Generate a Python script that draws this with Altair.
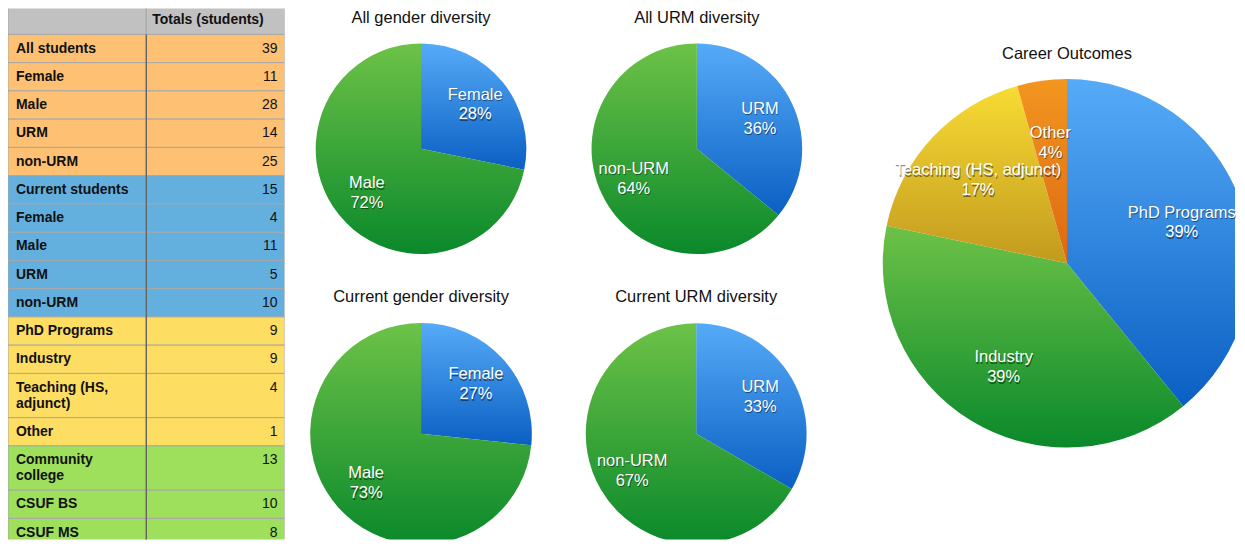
import altair as alt
import pandas as pd

# ---------------- data ----------------
table_header = "Totals (students)"
row_labels = ["All students", "Female", "Male", "URM", "non-URM",
              "Current students", "Female", "Male", "URM", "non-URM",
              "PhD Programs", "Industry", "Teaching (HS,\nadjunct)", "Other",
              "Community\ncollege", "CSUF BS", "CSUF MS"]
row_values = [39, 11, 28, 14, 25, 15, 4, 11, 5, 10, 9, 9, 4, 1, 13, 10, 8]
row_groups = ["All"] * 5 + ["Current"] * 5 + ["Careers"] * 4 + ["Origin"] * 3

gender_cats = ["Female", "Male"]
all_gender = [11, 28]
current_gender = [4, 11]
urm_cats = ["URM", "non-URM"]
all_urm = [14, 25]
current_urm = [5, 10]
career_cats = ["PhD Programs", "Industry", "Teaching (HS, adjunct)", "Other"]
career_values = [9, 9, 4, 1]

titles = ["All gender diversity", "All URM diversity",
          "Current gender diversity", "Current URM diversity", "Career Outcomes"]

# ---------------- style ----------------
FONT = "Liberation Sans"
HEADER_H = 30.0
ROW_H = 28.3
LINE_EXTRA = 16.0
TABLE_W, TABLE_H = 277, 532
Y_DOMAIN = [4, 536]
LABEL_LH = 20


def grad(top, bottom):
    return {"gradient": "linear", "x1": 0, "y1": 0, "x2": 0, "y2": 1,
            "stops": [{"offset": 0, "color": top}, {"offset": 1, "color": bottom}]}


BLUE = grad("#56abf8", "#0a5fc3")
GREEN = grad("#6dc247", "#0a892b")
YELLOW = grad("#f8db34", "#c29a1e")
ORANGE = grad("#f2961f", "#de6812")

# ---------------- table ----------------
rows = [dict(label="", value=table_header, group="Header", top=0.0, bot=HEADER_H,
             ymid=15.5, xl=0, xm=1, xr=2)]
top = HEADER_H
for lab, val, grp in zip(row_labels, row_values, row_groups):
    lines = lab.count("\n") + 1
    h = ROW_H + (lines - 1) * LINE_EXTRA
    rows.append(dict(label=lab, value=str(val), group=grp, top=top, bot=top + h,
                     ymid=top + 14.3, xl=0, xm=1, xr=2))
    top += h
rows_df = pd.DataFrame(rows)

cells = []
for r in rows:
    for c in (0, 1):
        cells.append(dict(x0=c, x1=c + 1, top=r["top"], bot=r["bot"], group=r["group"]))
cells_df = pd.DataFrame(cells)

XS = alt.Scale(domain=[0, 2], nice=False, zero=False)
YS = alt.Scale(domain=Y_DOMAIN, nice=False, zero=False, reverse=True)

rects = alt.Chart(cells_df).mark_rect(stroke="#a8a8a8", strokeWidth=1, clip=True).encode(
    x=alt.X("x0:Q", scale=XS, axis=None),
    x2="x1:Q",
    y=alt.Y("top:Q", scale=YS, axis=None),
    y2="bot:Q",
    fill=alt.Fill("group:N", legend=None,
                  scale=alt.Scale(domain=["Header", "All", "Current", "Careers", "Origin"],
                                  range=["#c1c1c1", "#fec072", "#63b0df", "#fedd63", "#9ee05b"])),
)

body = rows_df[rows_df.group != "Header"]
divider_df = pd.DataFrame({"x": [1], "y": [body.top.min()], "y2": [body.bot.max()]})
divider = alt.Chart(divider_df).mark_rule(color="#5a5a5a", strokeWidth=1.2, clip=True).encode(
    x=alt.X("x:Q", scale=XS, axis=None),
    y=alt.Y("y:Q", scale=YS, axis=None),
    y2="y2:Q",
)

labels = alt.Chart(body).mark_text(align="left", baseline="middle", dx=8, font=FONT,
                                   fontSize=14, fontWeight="bold", lineBreak="\n",
                                   lineHeight=16, color="#111").encode(
    x=alt.X("xl:Q", scale=XS, axis=None),
    y=alt.Y("ymid:Q", scale=YS, axis=None),
    text="label:N",
)
numbers = alt.Chart(body).mark_text(align="right", baseline="middle", dx=-7, font=FONT,
                                    fontSize=14, color="#111").encode(
    x=alt.X("xr:Q", scale=XS, axis=None),
    y=alt.Y("ymid:Q", scale=YS, axis=None),
    text="value:N",
)
header_txt = alt.Chart(rows_df[rows_df.group == "Header"]).mark_text(
    align="left", baseline="middle", dx=6, font=FONT, fontSize=14, fontWeight="bold",
    color="#111").encode(
    x=alt.X("xm:Q", scale=XS, axis=None),
    y=alt.Y("ymid:Q", scale=YS, axis=None),
    text="value:N",
)

table = alt.layer(rects, divider, labels, numbers, header_txt).properties(
    width=TABLE_W, height=TABLE_H)


# ---------------- pies ----------------
def fill_for(cats, grads):
    w = alt.when(alt.datum.cat == cats[0]).then(alt.value(grads[0]))
    for c, g in zip(cats[1:-1], grads[1:-1]):
        w = w.when(alt.datum.cat == c).then(alt.value(g))
    return w.otherwise(alt.value(grads[-1]))


def pie(cats, vals, grads, title, width, height, cx, cy, r, lr, title_y, fs=16.5):
    total = sum(vals)
    df = pd.DataFrame({"cat": cats, "value": vals, "idx": list(range(len(cats)))})
    df["label"] = [f"{c}\n{round(100 * v / total)}%" for c, v in zip(cats, vals)]
    base = alt.Chart(df).encode(
        theta=alt.Theta("value:Q", stack=True),
        order=alt.Order("idx:O"),
        x=alt.value(cx), y=alt.value(cy),
    )
    arc = base.mark_arc(radius=r, clip=True).encode(fill=fill_for(cats, grads))
    shift = -LABEL_LH / 2
    shadow = base.mark_text(radius=lr, dx=0.8, dy=shift + 1.6, font=FONT, fontSize=fs,
                            lineBreak="\n", lineHeight=LABEL_LH, baseline="middle",
                            fill="#000000", opacity=0.45).encode(text="label:N")
    txt = base.mark_text(radius=lr, dy=shift, font=FONT, fontSize=fs, lineBreak="\n",
                         lineHeight=LABEL_LH, baseline="middle",
                         fill="white").encode(text="label:N")
    ttl = alt.Chart(pd.DataFrame({"t": [title]})).mark_text(
        font=FONT, fontSize=16.5, color="#111", baseline="middle").encode(
        text="t:N", x=alt.value(cx), y=alt.value(title_y))
    return alt.layer(arc, shadow, txt, ttl).properties(width=width, height=height)


p1 = pie(gender_cats, all_gender, [BLUE, GREEN], titles[0], 276, 280, 136.7, 140.5, 105.5, 70, 9.5)
p2 = pie(urm_cats, all_urm, [BLUE, GREEN], titles[1], 276, 280, 137.0, 140.5, 105.5, 70, 9.5)
p3 = pie(gender_cats, current_gender, [BLUE, GREEN], titles[2], 276, 252, 136.7, 146, 111, 74, 9.5)
p4 = pie(urm_cats, current_urm, [BLUE, GREEN], titles[3], 276, 252, 136.3, 146, 110.6, 74, 9.5)
big = pie(career_cats, career_values, [BLUE, GREEN, YELLOW, ORANGE], titles[4],
          400, 532, 231.7, 255.3, 184.5, 122, 45.5)

pies = alt.vconcat(alt.hconcat(p1, p2, spacing=0), alt.hconcat(p3, p4, spacing=0), spacing=0)

chart = alt.hconcat(table, pies, big, spacing=0).properties(
    padding=0, background="white"
).configure_view(strokeWidth=0)

chart.save("out.html", embed_options={"renderer": "svg", "actions": False})
